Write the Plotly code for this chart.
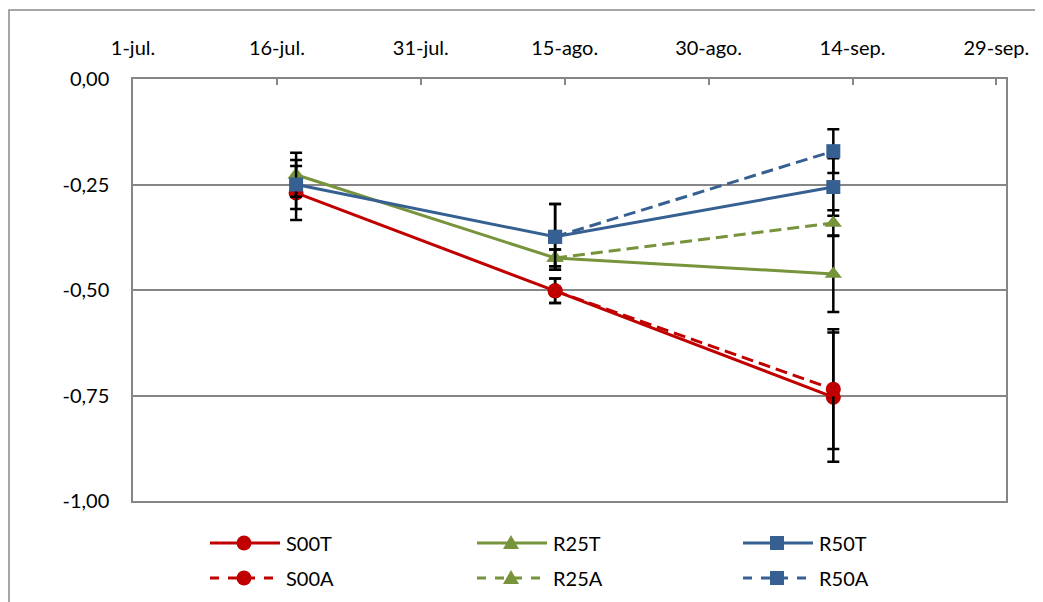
import plotly.graph_objects as go

# ---- data ----
series_names = ["S00T", "R25T", "R50T", "S00A", "R25A", "R50A"]
dates_T = ["2013-07-18", "2013-08-14", "2013-09-12"]
dates_A = ["2013-08-14", "2013-09-12"]

S00T = [-0.270, -0.502, -0.754]
R25T = [-0.227, -0.424, -0.462]
R50T = [-0.250, -0.374, -0.256]
S00A = [-0.502, -0.735]
R25A = [-0.424, -0.341]
R50A = [-0.374, -0.171]

S00T_err = [0.064, 0.029, 0.153]
R25T_err = [0.052, 0.020, 0.090]
R50T_err = [0.058, 0.078, 0.068]
S00A_err = [0.029, 0.142]
R25A_err = [0.020, 0.030]
R50A_err = [0.078, 0.052]

x_tickvals = ["2013-07-01", "2013-07-16", "2013-07-31", "2013-08-15",
              "2013-08-30", "2013-09-14", "2013-09-29"]
x_ticktext = ["1-jul.", "16-jul.", "31-jul.", "15-ago.", "30-ago.", "14-sep.", "29-sep."]
y_tickvals = [0, -0.25, -0.5, -0.75, -1.0]
y_ticktext = ["0,00", "-0,25", "-0,50", "-0,75", "-1,00"]

# ---- style ----
RED, GREEN, BLUE = "#C00000", "#77933C", "#376092"
FONT = "Lato"
OFF = 8  # page body margin offset
W, H = 1043 - OFF, 602 - OFF
L, R, T, B = 133 - OFF, 1006 - OFF, 79 - OFF, 501 - OFF
PW, PH = R - L, B - T


def pxx(x):
    return (x - OFF - L) / PW


def pxy(y):
    return (B - (y - OFF)) / PH


specs = [
    (series_names[0], dates_T, S00T, S00T_err, RED, "circle", "solid"),
    (series_names[1], dates_T, R25T, R25T_err, GREEN, "triangle-up", "solid"),
    (series_names[2], dates_T, R50T, R50T_err, BLUE, "square", "solid"),
    (series_names[3], dates_A, S00A, S00A_err, RED, "circle", "12px,6px"),
    (series_names[4], dates_A, R25A, R25A_err, GREEN, "triangle-up", "12px,6px"),
    (series_names[5], dates_A, R50A, R50A_err, BLUE, "square", "12px,6px"),
]
msize = {"circle": 15, "triangle-up": 15, "square": 14}

fig = go.Figure()
for name, xs, ys, err, col, sym, dash in specs:
    fig.add_trace(go.Scatter(
        x=xs, y=ys, name=name, mode="lines+markers",
        line=dict(color=col, width=3, dash=dash),
        marker=dict(symbol=sym, size=msize[sym], color=col, line=dict(width=0)),
        error_y=dict(type="data", array=err, visible=True, color="black",
                     thickness=2.5, width=6),
        showlegend=False,
    ))

shapes = []
annotations = []
# outer chart frame
shapes.append(dict(type="rect", xref="paper", yref="paper",
                   x0=pxx(9), x1=pxx(1060), y0=pxy(10), y1=pxy(620),
                   line=dict(color="#898989", width=1.5), fillcolor="rgba(0,0,0,0)",
                   layer="below"))

# custom legend (3 columns x 2 rows)
col_x = [210, 477, 743]
row_y = [543, 578]
for i, (name, xs, ys, err, col, sym, dash) in enumerate(specs):
    cx = col_x[i % 3]
    ry = row_y[i // 3]
    shapes.append(dict(type="line", xref="paper", yref="paper",
                       x0=pxx(cx), x1=pxx(cx + 70), y0=pxy(ry), y1=pxy(ry),
                       line=dict(color=col, width=3,
                                 dash="solid" if dash == "solid" else "dash")))
    mx = cx + 34
    if sym == "circle":
        r = 7.5
        shapes.append(dict(type="circle", xref="paper", yref="paper",
                           x0=pxx(mx - r), x1=pxx(mx + r), y0=pxy(ry - r), y1=pxy(ry + r),
                           fillcolor=col, line=dict(width=0)))
    elif sym == "square":
        r = 7
        shapes.append(dict(type="rect", xref="paper", yref="paper",
                           x0=pxx(mx - r), x1=pxx(mx + r), y0=pxy(ry - r), y1=pxy(ry + r),
                           fillcolor=col, line=dict(width=0)))
    else:
        r = 8
        path = "M {} {} L {} {} L {} {} Z".format(
            pxx(mx), pxy(ry - r), pxx(mx - r), pxy(ry + r * 0.75),
            pxx(mx + r), pxy(ry + r * 0.75))
        shapes.append(dict(type="path", xref="paper", yref="paper", path=path,
                           fillcolor=col, line=dict(width=0)))
    annotations.append(dict(xref="paper", yref="paper", x=pxx(cx + 74), y=pxy(ry),
                            text=name, showarrow=False, xanchor="left", yanchor="middle",
                            font=dict(family=FONT, size=20, color="black")))

fig.update_layout(
    width=W, height=H,
    margin=dict(l=L, r=W - R, t=T, b=H - B),
    paper_bgcolor="white", plot_bgcolor="white",
    font=dict(family=FONT, size=20, color="black"),
    showlegend=False,
    shapes=shapes, annotations=annotations,
    xaxis=dict(type="date", range=["2013-07-01", "2013-09-30"], side="top",
               tickvals=x_tickvals, ticktext=x_ticktext,
               ticks="inside", ticklen=6, tickwidth=1.5, tickcolor="#868686",
               showline=True, linecolor="#868686", linewidth=1.5, mirror=True,
               showgrid=False, zeroline=False, ticklabelstandoff=14,
               tickfont=dict(family=FONT, size=20, color="black")),
    yaxis=dict(range=[-1.0, 0.0], tickvals=y_tickvals, ticktext=y_ticktext,
               showline=True, linecolor="#868686", linewidth=1.5, mirror=True,
               showgrid=True, gridcolor="#868686", gridwidth=1.5, zeroline=False,
               ticks="", ticklabelstandoff=18,
               tickfont=dict(family=FONT, size=20, color="black")),
)

fig.write_html("out.html")
